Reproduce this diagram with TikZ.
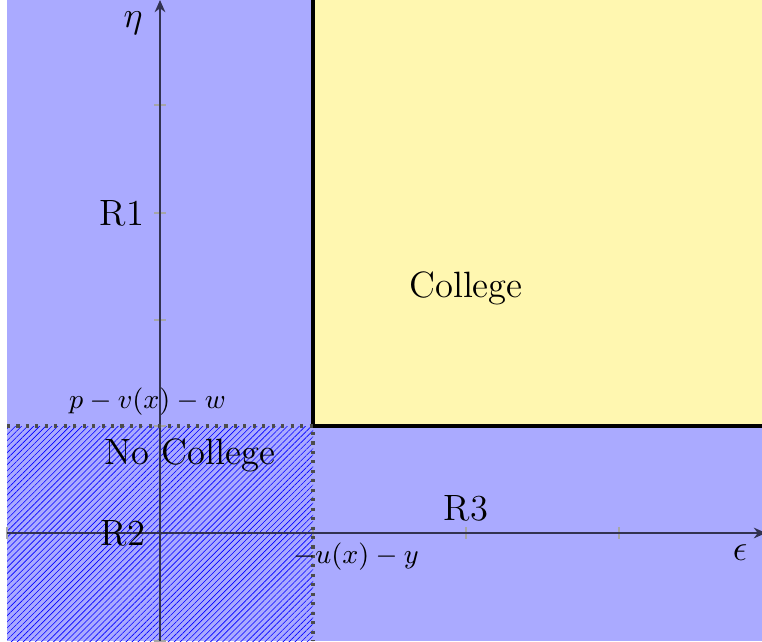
\documentclass[tikz,border=0pt]{standalone}
\usetikzlibrary{patterns.meta,arrows.meta}
\definecolor{regblue}{RGB}{170,170,255}
\definecolor{regyellow}{RGB}{255,247,176}
\definecolor{axiscol}{RGB}{50,50,80}
\tikzset{
  axisline/.style={axiscol,line width=0.6pt,-{Stealth[length=4pt,width=3.5pt]}},
  tickmark/.style={gray!70,line width=0.4pt},
  bound/.style={black,line width=1.1pt},
  dotline/.style={black!70,line width=1.1pt,dash pattern=on 1pt off 2.1pt},
  lab/.style={inner sep=0pt,font=\large},
  smalllab/.style={inner sep=0pt,font=\small},
}
\begin{document}
\begin{tikzpicture}[x=0.32787pt,y=-0.32787pt]
\useasboundingbox (0,0) rectangle (762,641);
% regions
\fill[white] (0,0) rectangle (762,641);
\fill[regblue] (7,0) rectangle (762,641);
\fill[regyellow] (313,0) rectangle (762,426);
\fill[pattern={Lines[angle=45,distance=1.4pt,line width=0.2pt]},pattern color=blue] (7,426) rectangle (313,641);
% ticks
\foreach \y in {105,213,320,426,533,641} \draw[tickmark] (154,\y) -- (166,\y);
\foreach \x in {7,313,466,619} \draw[tickmark] (\x,527) -- (\x,539);
% axes
\coordinate (xs) at (7,533);
\coordinate (xe) at (766,533);
\coordinate (ys) at (160,641);
\coordinate (ye) at (160,0);
\draw[axisline] (xs) -- (xe);
\draw[axisline] (ys) -- (ye);
% boundaries
\coordinate (c) at (313,426);
\coordinate (ct) at (313,0);
\coordinate (cr) at (762,426);
\coordinate (cl) at (7,426);
\coordinate (cb) at (313,641);
\draw[bound] (ct) -- (c) -- (cr);
\draw[dotline] (cl) -- (c) -- (cb);
% labels
\node[lab] (eta) at (133,23) {$\eta$};
\node[lab] (eps) at (740,553) {$\epsilon$};
\node[lab] (r1) at (122,213) {R1};
\node[lab] (coll) at (466,288) {College};
\node[smalllab] (pv) at (147.5,402) {$p-v(x)-w$};
\node[lab] (nc) at (190,455) {No College};
\node[lab] (r2) at (123,533) {R2};
\node[lab] (r3) at (466,508) {R3};
\node[smalllab] (uy) at (356,557) {$-u(x)-y$};
\end{tikzpicture}
\end{document}
